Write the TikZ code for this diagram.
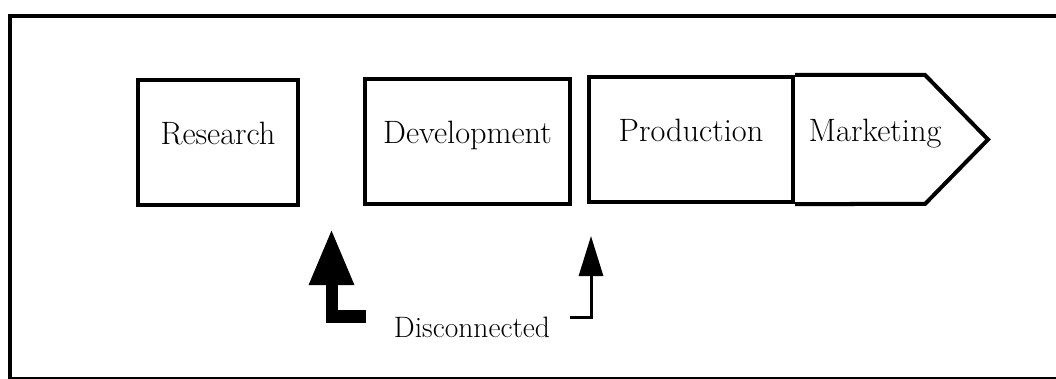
\documentclass[tikz,border=0pt]{standalone}
\usepackage{tikz}
\usetikzlibrary{arrows.meta,positioning}
\tikzset{>=stealth}
\tikzset{stage/.style={draw, line width=0.1cm, minimum height=3.125cm,
    text height=0.5cm, text depth=0.375cm, font=\fontsize{23}{26}\selectfont},
  label/.style={text height=0.5cm, text depth=0.375cm, font=\fontsize{23}{26}\selectfont}}

\begin{document}
\begin{tikzpicture}[x=0.025cm, y=-0.025cm, line join=miter]
    \useasboundingbox (0,0) rectangle (1056,379);
    % outer frame, open on the right
    \draw[line width=0.1cm] (1060,16) -- (10,16) -- (10,379) -- (1060,379);

    \node[stage, minimum width=4cm] (res) at (218,142.5) {Research};
    \node[stage, minimum width=5.125cm] (dev) at (467.5,141.5) {Development};
    \node[stage, minimum width=5.1cm] (prod) at (691,139.5) {Production};
    % marketing stage ends in a point
    \draw[line width=0.1cm] (prod.north east) -- ++(130,0) -- ++(63,64.5)
        -- ++(-63,64.5) -- (prod.south east);
    \node[label] (mkt) at (875,139.5) {Marketing};

    \node[font=\fontsize{21}{24}\selectfont] (disc) at (472,327) {Disconnected};
    \coordinate (tipA) at (331.5,229);
    \coordinate (tailA) at (366,316.5);
    \coordinate (tipB) at (591,236);
    \coordinate (tailB) at (570,317.5);
    \draw[line width=0.3cm, -{Triangle[length=1.4cm,width=1.05cm]}] (tailA) -| (tipA);
    \draw[line width=0.075cm, -{Triangle[length=1cm,width=0.6cm]}] (tailB) -| (tipB);
\end{tikzpicture}
\end{document}
